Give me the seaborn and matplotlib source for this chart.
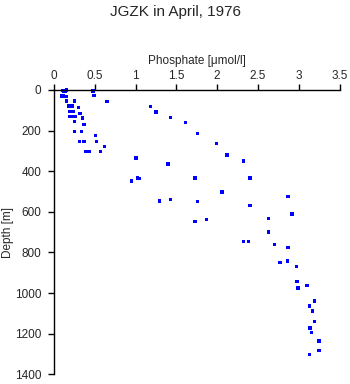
import matplotlib
matplotlib.use("Agg")
import matplotlib.pyplot as plt
import seaborn as sns
import pandas as pd

phosphate = [0.11, 0.13, 0.15, 0.12, 0.14, 0.47, 0.48,
             0.09, 0.12, 0.155, 0.49,
             0.15, 0.25, 0.65,
             0.18, 0.20, 0.23, 0.30, 1.185,
             0.19, 0.21, 0.24, 0.32, 1.25,
             0.19, 0.22, 0.26, 0.35, 1.43,
             0.25, 0.37, 1.61,
             0.25, 0.335, 0.506, 1.756,
             0.31, 0.37, 0.52, 0.62, 1.99,
             0.385, 0.43, 0.57, 2.12,
             1.005, 2.32, 1.40,
             1.02, 1.04, 1.73, 2.405, 0.95,
             2.06, 2.87,
             1.43, 1.29, 1.756, 2.405, 2.92, 2.63, 1.87, 1.73,
             2.63, 2.32, 2.386, 2.70, 2.87, 2.86, 2.77, 2.97,
             2.98, 3.10, 2.99, 3.19, 3.13, 3.17, 3.19, 3.14, 3.16, 3.25, 3.25, 3.13]
depth = [1, 1, 0, 4, 4, 1, 5,
         30, 30, 32, 28,
         54, 54, 56,
         79, 79, 79, 85, 80,
         105, 105, 105, 115, 108,
         130, 130, 130, 138, 134,
         154, 169, 159,
         204, 204, 223, 213,
         253, 253, 253, 277, 264,
         302, 302, 302, 320,
         335, 350, 364,
         433, 437, 433, 433, 448,
         502, 524,
         539, 547, 548, 568, 610, 632, 637, 647,
         700, 745, 745, 760, 775, 843, 848, 868,
         942, 962, 976, 1040, 1064, 1088, 1139, 1172, 1193, 1237, 1282, 1303]

x_ticks = [0, 0.5, 1, 1.5, 2, 2.5, 3, 3.5]
x_tick_labels = ["0", "0.5", "1", "1.5", "2", "2.5", "3", "3.5"]
y_ticks = [0, 200, 400, 600, 800, 1000, 1200, 1400]

sns.set_theme(style="white")
plt.rcParams['font.family'] = ['Liberation Sans', 'DejaVu Sans']

df = pd.DataFrame({"Phosphate": phosphate, "Depth": depth})

fig = plt.figure(figsize=(3.5, 3.84), dpi=100)
ax = fig.add_axes([54/350, 1 - 374.3/384, (339.5-54)/350, (374.3-90)/384])

sns.scatterplot(data=df, x="Phosphate", y="Depth", ax=ax, marker="s", s=6,
                color="#0000ff", edgecolor="none", linewidth=0, clip_on=False)

ax.set_xlim(0, 3.5)
ax.set_ylim(1400, 0)
ax.xaxis.tick_top()
ax.xaxis.set_label_position('top')
ax.set_xticks(x_ticks)
ax.set_xticklabels(x_tick_labels)
ax.set_yticks(y_ticks)
ax.set_yticklabels([str(v) for v in y_ticks])

for s in ["right", "bottom"]:
    ax.spines[s].set_visible(False)
for s in ["top", "left"]:
    ax.spines[s].set_color("black")
    ax.spines[s].set_linewidth(1.0)

ax.tick_params(axis="x", which="both", top=True, bottom=False, length=4, width=1,
               color="black", labelsize=8.5, pad=2, direction="out")
ax.tick_params(axis="y", which="both", left=True, length=4, width=1,
               color="black", labelsize=8.5, pad=5, direction="out")

ax.set_xlabel("Phosphate [\u03bcmol/l]", fontsize=8.5, labelpad=4)
ax.set_ylabel("Depth [m]", fontsize=8.5)
ax.yaxis.set_label_coords(-0.14, 0.5)

fig.text(0.5, 1 - 12/384, "JGZK in April, 1976", ha="center", va="center", fontsize=11)

fig.savefig("out.png", dpi=100)
